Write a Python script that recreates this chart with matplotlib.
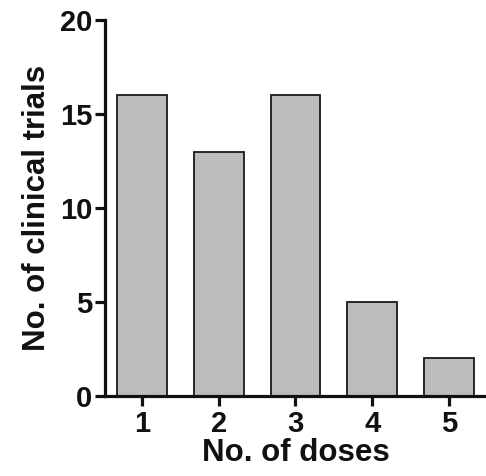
import matplotlib.pyplot as plt

doses = [1, 2, 3, 4, 5]
trials = [16, 13, 16, 5, 2]

plt.rcParams['font.family'] = ['Liberation Sans', 'DejaVu Sans']
plt.rcParams['font.weight'] = 'bold'

fig = plt.figure(figsize=(4.86, 4.76), dpi=100)
ax = fig.add_axes([0.216, 0.168, 0.784, 0.79])

ax.bar(doses, trials, width=0.65, color='#bcbcbc', edgecolor='#1a1a1a', linewidth=1.3)

ax.set_xlim(0.52, 5.48)
ax.set_ylim(0, 20)
ax.set_yticks([0, 5, 10, 15, 20])
ax.set_xticks(doses)

for s in ['top', 'right']:
    ax.spines[s].set_visible(False)
for s in ['left', 'bottom']:
    ax.spines[s].set_linewidth(2.3)
    ax.spines[s].set_color('#111111')

ax.tick_params(axis='both', direction='out', length=7, width=2.3, labelsize=21, color='#111111', labelcolor='#111111')
ax.tick_params(axis='y', pad=2)
ax.tick_params(axis='x', pad=3)
for lab in ax.get_xticklabels() + ax.get_yticklabels():
    lab.set_fontweight('bold')

ax.set_xlabel('No. of doses', fontsize=22.5, fontweight='bold', labelpad=0, color='#111111')
ax.set_ylabel('No. of clinical trials', fontsize=22.5, fontweight='bold', labelpad=6, color='#111111')

fig.savefig('out.png', dpi=100)
